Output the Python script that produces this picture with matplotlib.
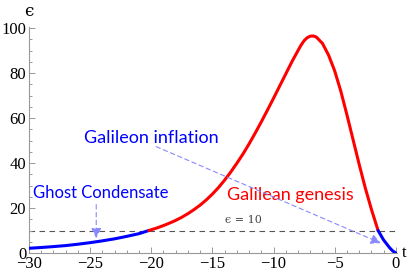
import matplotlib.pyplot as plt
from matplotlib.ticker import MultipleLocator

# 读图得到的曲线数据
t_ghost = [-30, -29, -28, -27, -26, -25, -24, -23, -22, -21, -20.2]
eps_ghost = [2.1, 2.45, 2.85, 3.3, 3.9, 4.6, 5.4, 6.3, 7.4, 8.6, 10.0]

t_genesis = [-20.2, -19.5, -19, -18.5, -18, -17.5, -17, -16.5, -16, -15.5, -15, -14.5,
             -14, -13.5, -13, -12.5, -12, -11.5, -11, -10.5, -10, -9.5, -9, -8.5,
             -8, -7.75, -7.5, -7.25, -7, -6.75, -6.5, -6, -5.5, -5, -4.5, -4, -3.5,
             -3, -2.5, -2, -1.45]
eps_genesis = [10.0, 11.2, 12.2, 13.3, 14.5, 15.9, 17.5, 19.3, 21.3, 23.6, 26.2, 29.1,
               32.4, 36.0, 39.9, 44.0, 48.5, 53.3, 58.3, 63.5, 68.8, 74.2, 79.6, 85.0,
               90.0, 92.4, 94.4, 95.7, 96.4, 96.5, 96.0, 93.2, 88.0, 81.0, 72.0, 61.5,
               50.5, 39.5, 29.0, 19.5, 10.0]

t_infl = [-1.45, -1, -0.5, -0.25, 0]
eps_infl = [10.0, 5.8, 2.3, 0.9, 0.0]

eps_line = 10

fig = plt.figure(figsize=(4.14, 2.75), dpi=100)
ax = fig.add_axes([0.070, 0.080, 0.889, 0.822])

ax.axhline(eps_line, color='#555555', lw=0.8, ls=(0, (5, 4)), zorder=1)
ax.plot(t_ghost, eps_ghost, color='#0000ff', lw=2.2, solid_capstyle='round', zorder=3)
ax.plot(t_genesis, eps_genesis, color='#ff0000', lw=2.2, solid_capstyle='round',
        solid_joinstyle='round', zorder=3)
ax.plot(t_infl, eps_infl, color='#0000ff', lw=2.2, solid_capstyle='round', zorder=3)

ax.set_xlim(-30, 0.1)
ax.set_ylim(0, 100.5)

for s in ['top', 'right']:
    ax.spines[s].set_visible(False)
for s in ['left', 'bottom']:
    ax.spines[s].set_color('#999999')
    ax.spines[s].set_linewidth(0.8)

ax.xaxis.set_major_locator(MultipleLocator(5))
ax.xaxis.set_minor_locator(MultipleLocator(1))
ax.yaxis.set_major_locator(MultipleLocator(20))
ax.yaxis.set_minor_locator(MultipleLocator(5))
ax.tick_params(which='both', direction='in', color='#999999', width=0.7)
ax.tick_params(which='major', length=4, labelsize=12, pad=2)
ax.tick_params(which='minor', length=2)
for lab in ax.get_xticklabels() + ax.get_yticklabels():
    lab.set_fontfamily('Liberation Serif')

ax.text(0.0, 1.03, 'ϵ', transform=ax.transAxes, fontsize=12, family='DejaVu Serif',
        ha='center', va='bottom')
ax.text(1.012, 0.0, 't', transform=ax.transAxes, fontsize=12, family='Liberation Serif',
        ha='left', va='center')

tfont = 'Lato'
ax.text(-25.5, 49, 'Galileon inflation', color='#0000ff', fontsize=13, family=tfont,
        ha='left', va='baseline')
ax.text(-29.7, 24.3, 'Ghost Condensate', color='#0000ff', fontsize=12, family=tfont,
        ha='left', va='baseline')
ax.text(-8.6, 23.5, 'Galilean genesis', color='#ff0000', fontsize=13, family=tfont,
        ha='center', va='baseline')
ax.text(-12.5, 13.5, 'ϵ = 10', color='#444444', fontsize=8, family='DejaVu Serif',
        ha='center', va='baseline')

arrow_kw = dict(arrowstyle='-|>,head_length=0.6,head_width=0.3', color='#8888ff',
                lw=0.8, ls=(0, (4, 3)), shrinkA=0, shrinkB=0)
ax.annotate('', xy=(-1.23, 4.4), xytext=(-19.6, 47.3), arrowprops=arrow_kw)
ax.annotate('', xy=(-24.5, 6.6), xytext=(-24.5, 21.5), arrowprops=arrow_kw)

fig.savefig('out.png', dpi=100)
